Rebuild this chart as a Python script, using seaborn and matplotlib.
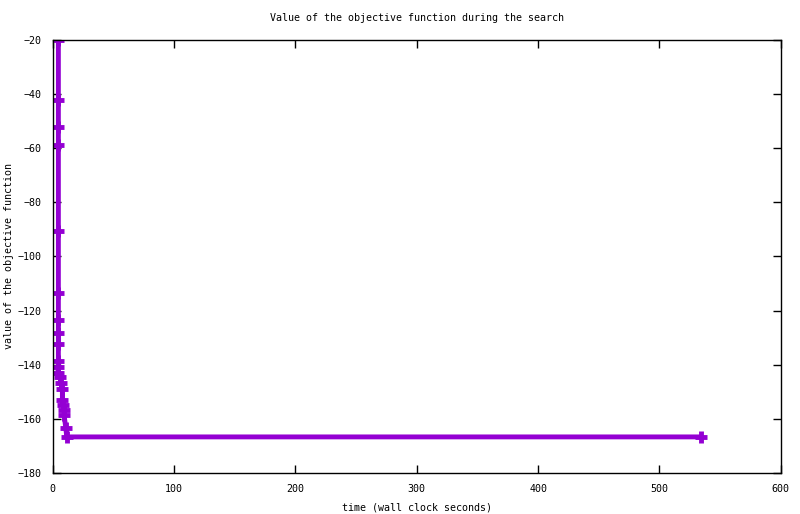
import pandas as pd
import seaborn as sns
import matplotlib.pyplot as plt

# objective value vs wall clock time
time_s = [4.6, 4.6, 4.6, 4.6, 4.6, 4.6, 4.6, 4.6, 4.6, 4.6, 4.6, 4.1,
          6.0, 6.8, 7.9, 7.9, 8.7, 9.3, 9.3, 10.7, 11.5, 534.3]
objective = [-20, -42.2, -52.1, -58.8, -90.6, -113.5, -123.5, -128.3, -132.3,
             -138.6, -140.7, -143.0, -144.4, -146.6, -149.1, -153.0, -154.9,
             -156.7, -158.6, -163.4, -166.7, -166.7]
x_ticks = [0, 100, 200, 300, 400, 500, 600]
y_ticks = [-180, -160, -140, -120, -100, -80, -60, -40, -20]

df = pd.DataFrame({"time": time_s, "value": objective})

sns.set_style("ticks")
plt.rcParams['font.family'] = ['DejaVu Sans Mono']
plt.rcParams['font.size'] = 7.2
plt.rcParams['text.color'] = 'black'
plt.rcParams['axes.labelcolor'] = 'black'
plt.rcParams['xtick.color'] = 'black'
plt.rcParams['ytick.color'] = 'black'

fig = plt.figure(figsize=(8, 5.14), dpi=100)
ax = fig.add_axes([0.066, 0.080, 0.910, 0.842])

sns.lineplot(data=df, x="time", y="value", sort=False, estimator=None,
             color="#9400d3", linewidth=3.5, marker="+", markersize=9,
             markeredgewidth=3.5, markeredgecolor="#9400d3", ax=ax)

ax.set_xlim(0, 600)
ax.set_ylim(-180, -20)
ax.set_xticks(x_ticks)
ax.set_yticks(y_ticks)
ax.tick_params(direction="in", length=6, width=1, top=True, right=True,
               labeltop=False, labelright=False, labelsize=7.2, pad=8)
for s in ax.spines.values():
    s.set_linewidth(1)
    s.set_color("black")

ax.set_title("Value of the objective function during the search", fontsize=7.2, pad=14)
ax.set_xlabel("time (wall clock seconds)", fontsize=7.2, labelpad=6)
ax.set_ylabel("value of the objective function", fontsize=7.2)
ax.yaxis.set_label_coords(-0.053, 0.5)

fig.savefig("out.png", dpi=100)
